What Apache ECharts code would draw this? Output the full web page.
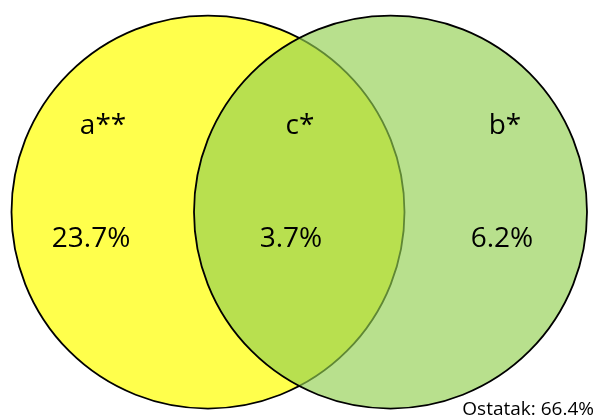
<!DOCTYPE html>
<html>
<head>
<meta charset="utf-8">
<style>html,body{margin:0;padding:0;background:#fff;}#chart{width:595px;height:417px;}</style>
<script src="https://cdn.jsdelivr.net/npm/echarts@6/dist/echarts.min.js"></script>
</head>
<body>
<div id="chart"></div>
<script>
// ---- data ----
const regionNames = ['a**', 'c*', 'b*'];
const regionValues = [23.7, 3.7, 6.2];
const remainderName = 'Ostatak';
const remainderValue = 66.4;

// ---- layout (axis units: circle radius = 1) ----
const circleCenters = [[0, 0], [0.9288, 0]];
const circleFills = ['rgba(255,255,0,0.70)', 'rgba(146,208,80,0.65)'];
const namePos = [[-0.534, 0.437], [0.468, 0.437], [1.511, 0.437]];
const valuePos = [[-0.595, -0.137], [0.422, -0.137], [1.496, -0.137]];
const FONT = '"Open Sans", "Liberation Sans", sans-serif';

const chart = echarts.init(document.getElementById('chart'));
const labelData = [];
regionNames.forEach((n, i) => {
  labelData.push([namePos[i][0], namePos[i][1], n]);
  labelData.push([valuePos[i][0], valuePos[i][1], regionValues[i].toFixed(1) + '%']);
});

chart.setOption({
  animation: false,
  grid: {left: 0, right: 0, top: 0, bottom: 0},
  xAxis: {type: 'value', min: -1.0585, max: 1.9695, show: false},
  yAxis: {type: 'value', min: -1.043, max: 1.0789, show: false},
  series: [
    {
      type: 'custom',
      coordinateSystem: 'cartesian2d',
      data: circleCenters.map((c, i) => [c[0], c[1], i]),
      z: 1,
      renderItem: function (params, api) {
        const p = api.coord([api.value(0), api.value(1)]);
        const r = api.size([1, 0])[0];
        return {
          type: 'circle',
          shape: {cx: p[0], cy: p[1], r: r},
          style: {fill: circleFills[api.value(2)], stroke: '#000', lineWidth: 1.8}
        };
      }
    },
    {
      type: 'custom',
      coordinateSystem: 'cartesian2d',
      data: labelData,
      z: 5,
      renderItem: function (params, api) {
        const p = api.coord([api.value(0), api.value(1)]);
        return {
          type: 'text',
          x: p[0], y: p[1],
          style: {
            text: labelData[params.dataIndex][2],
            font: '28px ' + FONT,
            fill: '#000',
            align: 'center',
            verticalAlign: 'middle'
          }
        };
      }
    }
  ],
  graphic: [{
    type: 'text',
    right: 1,
    bottom: -2,
    style: {
      text: remainderName + ': ' + remainderValue.toFixed(1) + '%',
      font: '19px ' + FONT,
      fill: '#000'
    }
  }]
});
</script>
</body>
</html>
